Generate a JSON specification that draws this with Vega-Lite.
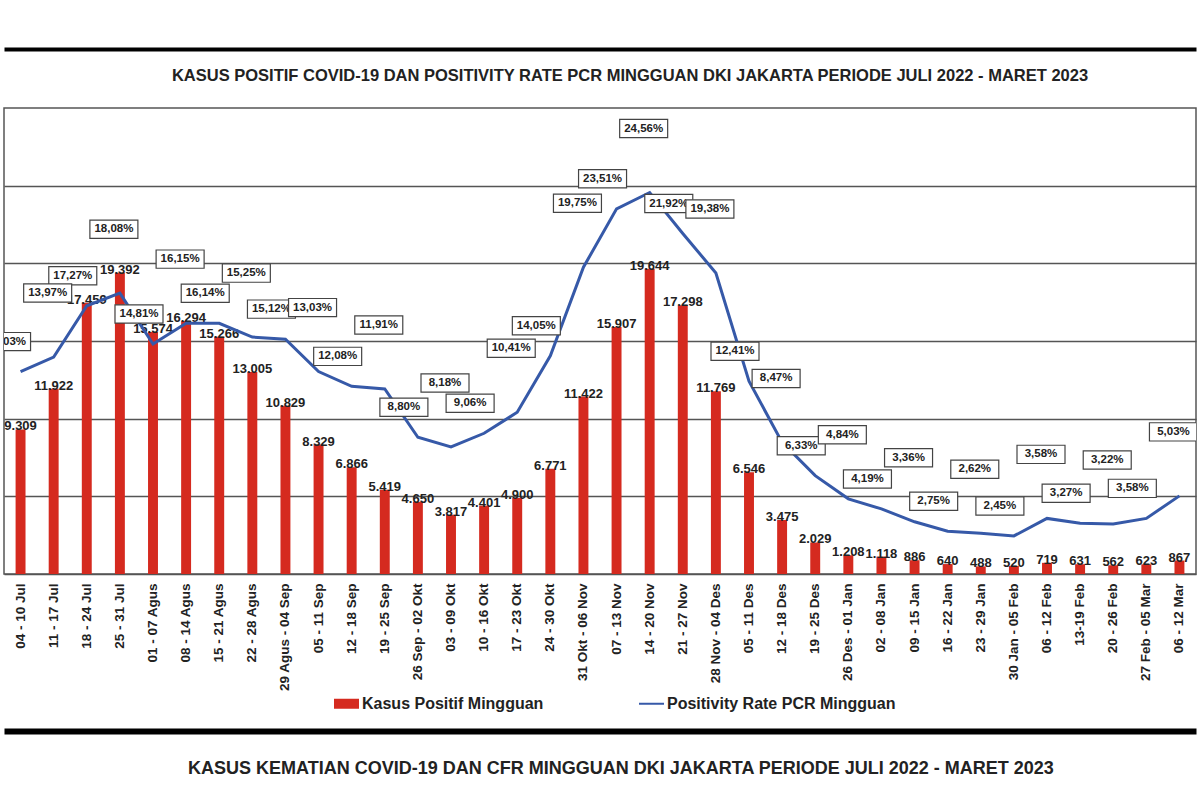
{
  "$schema": "https://vega.github.io/schema/vega-lite/v6.json",
  "background": "white",
  "padding": {"left": 3, "top": 49, "right": 0, "bottom": 0},
  "data": {"values": [
    {"w": "04 - 10 Jul", "cases": 9309, "pr": 0.1303},
    {"w": "11 - 17 Jul", "cases": 11922, "pr": 0.1397},
    {"w": "18 - 24 Jul", "cases": 17459, "pr": 0.1727},
    {"w": "25 - 31 Jul", "cases": 19392, "pr": 0.1808},
    {"w": "01 - 07 Agus", "cases": 15574, "pr": 0.1481},
    {"w": "08 - 14 Agus", "cases": 16294, "pr": 0.1615},
    {"w": "15 - 21 Agus", "cases": 15266, "pr": 0.1614},
    {"w": "22 - 28 Agus", "cases": 13005, "pr": 0.1525},
    {"w": "29 Agus - 04 Sep", "cases": 10829, "pr": 0.1512},
    {"w": "05 - 11 Sep", "cases": 8329, "pr": 0.1303},
    {"w": "12 - 18 Sep", "cases": 6866, "pr": 0.1208},
    {"w": "19 - 25 Sep", "cases": 5419, "pr": 0.1191},
    {"w": "26 Sep - 02 Okt", "cases": 4650, "pr": 0.0880},
    {"w": "03 - 09 Okt", "cases": 3817, "pr": 0.0818},
    {"w": "10 - 16 Okt", "cases": 4401, "pr": 0.0906},
    {"w": "17 - 23 Okt", "cases": 4900, "pr": 0.1041},
    {"w": "24 - 30 Okt", "cases": 6771, "pr": 0.1405},
    {"w": "31 Okt - 06 Nov", "cases": 11422, "pr": 0.1975},
    {"w": "07 - 13 Nov", "cases": 15907, "pr": 0.2351},
    {"w": "14 - 20 Nov", "cases": 19644, "pr": 0.2456},
    {"w": "21 - 27 Nov", "cases": 17298, "pr": 0.2192},
    {"w": "28 Nov - 04 Des", "cases": 11769, "pr": 0.1938},
    {"w": "05 - 11 Des", "cases": 6546, "pr": 0.1241},
    {"w": "12 - 18 Des", "cases": 3475, "pr": 0.0847},
    {"w": "19 - 25 Des", "cases": 2029, "pr": 0.0633},
    {"w": "26 Des - 01 Jan", "cases": 1208, "pr": 0.0484},
    {"w": "02 - 08 Jan", "cases": 1118, "pr": 0.0419},
    {"w": "09 - 15 Jan", "cases": 886, "pr": 0.0336},
    {"w": "16 - 22 Jan", "cases": 640, "pr": 0.0275},
    {"w": "23 - 29 Jan", "cases": 488, "pr": 0.0262},
    {"w": "30 Jan - 05 Feb", "cases": 520, "pr": 0.0245},
    {"w": "06 - 12 Feb", "cases": 719, "pr": 0.0358},
    {"w": "13-19 Feb", "cases": 631, "pr": 0.0327},
    {"w": "20 - 26 Feb", "cases": 562, "pr": 0.0322},
    {"w": "27 Feb - 05 Mar", "cases": 623, "pr": 0.0358},
    {"w": "06 - 12 Mar", "cases": 867, "pr": 0.0503}
  ]},
  "spacing": 16,
  "resolve": {"scale": {"color": "independent"}, "legend": {"color": "independent"}},
  "vconcat": [
    {
      "width": 1192,
      "height": 1,
      "view": {"stroke": null},
      "mark": {"type": "rule", "opacity": 0},
      "encoding": {
        "x": {"field": "w", "type": "nominal", "sort": null,
          "axis": {"orient": "top", "domain": true, "domainColor": "#000", "domainWidth": 4, "labels": false, "ticks": false, "title": null, "grid": false}}
      }
    },
    {
      "width": 1192,
      "height": 466,
      "title": {
        "text": "KASUS POSITIF COVID-19 DAN POSITIVITY RATE PCR MINGGUAN DKI JAKARTA PERIODE  JULI 2022 - MARET 2023",
        "orient": "top", "offset": 24, "dx": 30,
        "font": "Liberation Sans", "fontSize": 16.5, "fontWeight": "bold", "color": "#222"
      },
      "encoding": {
        "x": {"field": "w", "type": "nominal", "sort": null,
          "scale": {"paddingInner": 0.7, "paddingOuter": 0.35},
          "axis": {"title": null, "labelAngle": -90, "labelFont": "Liberation Sans", "labelFontWeight": "bold", "labelFontSize": 13.5, "labelColor": "#222", "ticks": false, "domain": true, "domainColor": "#555", "domainWidth": 1.5, "labelPadding": 9, "grid": false}}
      },
      "layer": [
        {
          "mark": {"type": "bar"},
          "encoding": {
            "y": {"field": "cases", "type": "quantitative", "scale": {"domain": [0, 30000], "nice": false},
              "axis": {"title": null, "labels": false, "ticks": false, "domain": false, "grid": true, "gridColor": "#555", "gridWidth": 1.3, "values": [5000, 10000, 15000, 20000, 25000]}},
            "color": {"datum": "Kasus Positif Mingguan", "type": "nominal",
              "scale": {"domain": ["Kasus Positif Mingguan", "Positivity Rate PCR Mingguan"], "range": ["#d52a1f", "#3659a8"]},
              "legend": {"orient": "none", "legendX": 328, "legendY": 581, "direction": "horizontal", "title": null, "padding": 2,
                "labelFont": "Liberation Sans", "labelFontSize": 16, "labelFontWeight": "bold", "labelColor": "#222", "labelLimit": 400,
                "columnPadding": 95, "symbolSize": 625, "labelOffset": 3,
                "encode": {"symbols": {"update": {
                  "shape": {"signal": "datum.value === 'Kasus Positif Mingguan' ? 'M-1,-0.4H1V0.4H-1Z' : 'M-1,-0.08H1V0.08H-1Z'"},
                  "fill": {"scale": "color", "field": "value"},
                  "stroke": {"value": "transparent"},
                  "strokeWidth": {"value": 0},
                  "opacity": {"value": 1}
                }}}}
            }
          }
        },
        {
          "mark": {"type": "text", "baseline": "middle", "dy": -3, "font": "Liberation Sans", "fontWeight": "bold", "fontSize": 13, "color": "#222"},
          "encoding": {
            "y": {"field": "cases", "type": "quantitative", "scale": {"domain": [0, 30000], "nice": false}, "axis": null},
            "text": {"field": "cases", "type": "quantitative", "format": ",d"}
          }
        },
        {
          "mark": {"type": "line", "strokeWidth": 3},
          "encoding": {
            "y": {"field": "pr", "type": "quantitative", "scale": {"domain": [0, 0.3], "nice": false}, "axis": null},
            "color": {"datum": "Positivity Rate PCR Mingguan", "type": "nominal"}
          }
        },
        {
          "transform": [{"window": [{"op": "row_number", "as": "idx"}]}, {"filter": "datum.idx % 2 == 1"}],
          "layer": [
            {
              "mark": {"type": "point", "shape": "M-1,-0.38H1V0.38H-1Z", "size": 2304, "filled": true, "fill": "white", "stroke": "#444", "strokeWidth": 1.2, "opacity": 1, "xOffset": -14, "yOffset": -30, "clip": true},
              "encoding": {
                "y": {"field": "pr", "type": "quantitative", "scale": {"domain": [0, 0.3], "nice": false}, "axis": null}
              }
            },
            {
              "mark": {"type": "text", "baseline": "middle", "xOffset": -14, "yOffset": -30, "font": "Liberation Sans", "fontWeight": "bold", "fontSize": 11.5, "color": "#222", "clip": true},
              "encoding": {
                "y": {"field": "pr", "type": "quantitative", "scale": {"domain": [0, 0.3], "nice": false}, "axis": null},
                "text": {"field": "pr", "type": "quantitative", "format": ".2%"}
              }
            }
          ]
        },
        {
          "transform": [{"window": [{"op": "row_number", "as": "idx"}]}, {"filter": "datum.idx % 2 == 0"}],
          "layer": [
            {
              "mark": {"type": "point", "shape": "M-1,-0.38H1V0.38H-1Z", "size": 2304, "filled": true, "fill": "white", "stroke": "#444", "strokeWidth": 1.2, "opacity": 1, "xOffset": -6, "yOffset": -64, "clip": true},
              "encoding": {
                "y": {"field": "pr", "type": "quantitative", "scale": {"domain": [0, 0.3], "nice": false}, "axis": null}
              }
            },
            {
              "mark": {"type": "text", "baseline": "middle", "xOffset": -6, "yOffset": -64, "font": "Liberation Sans", "fontWeight": "bold", "fontSize": 11.5, "color": "#222", "clip": true},
              "encoding": {
                "y": {"field": "pr", "type": "quantitative", "scale": {"domain": [0, 0.3], "nice": false}, "axis": null},
                "text": {"field": "pr", "type": "quantitative", "format": ".2%"}
              }
            }
          ]
        }
      ],
      "resolve": {"scale": {"y": "independent"}}
    },
    {
      "width": 1192,
      "height": 1,
      "view": {"stroke": null},
      "title": {
        "text": "KASUS KEMATIAN COVID-19 DAN CFR MINGGUAN DKI JAKARTA PERIODE  JULI 2022 - MARET 2023",
        "orient": "bottom", "offset": 28, "dx": 21,
        "font": "Liberation Sans Narrow, Liberation Sans", "fontSize": 18, "fontWeight": "bold", "color": "#222"
      },
      "mark": {"type": "rule", "opacity": 0},
      "encoding": {
        "x": {"field": "w", "type": "nominal", "sort": null,
          "axis": {"orient": "top", "domain": true, "domainColor": "#000", "domainWidth": 6, "labels": false, "ticks": false, "title": null, "grid": false}}
      }
    }
  ],
  "config": {
    "font": "Liberation Sans",
    "view": {"stroke": "#555", "strokeWidth": 1.5},
    "locale": {"number": {"decimal": ",", "thousands": ".", "grouping": [3], "currency": ["Rp", ""]}}
  }
}
